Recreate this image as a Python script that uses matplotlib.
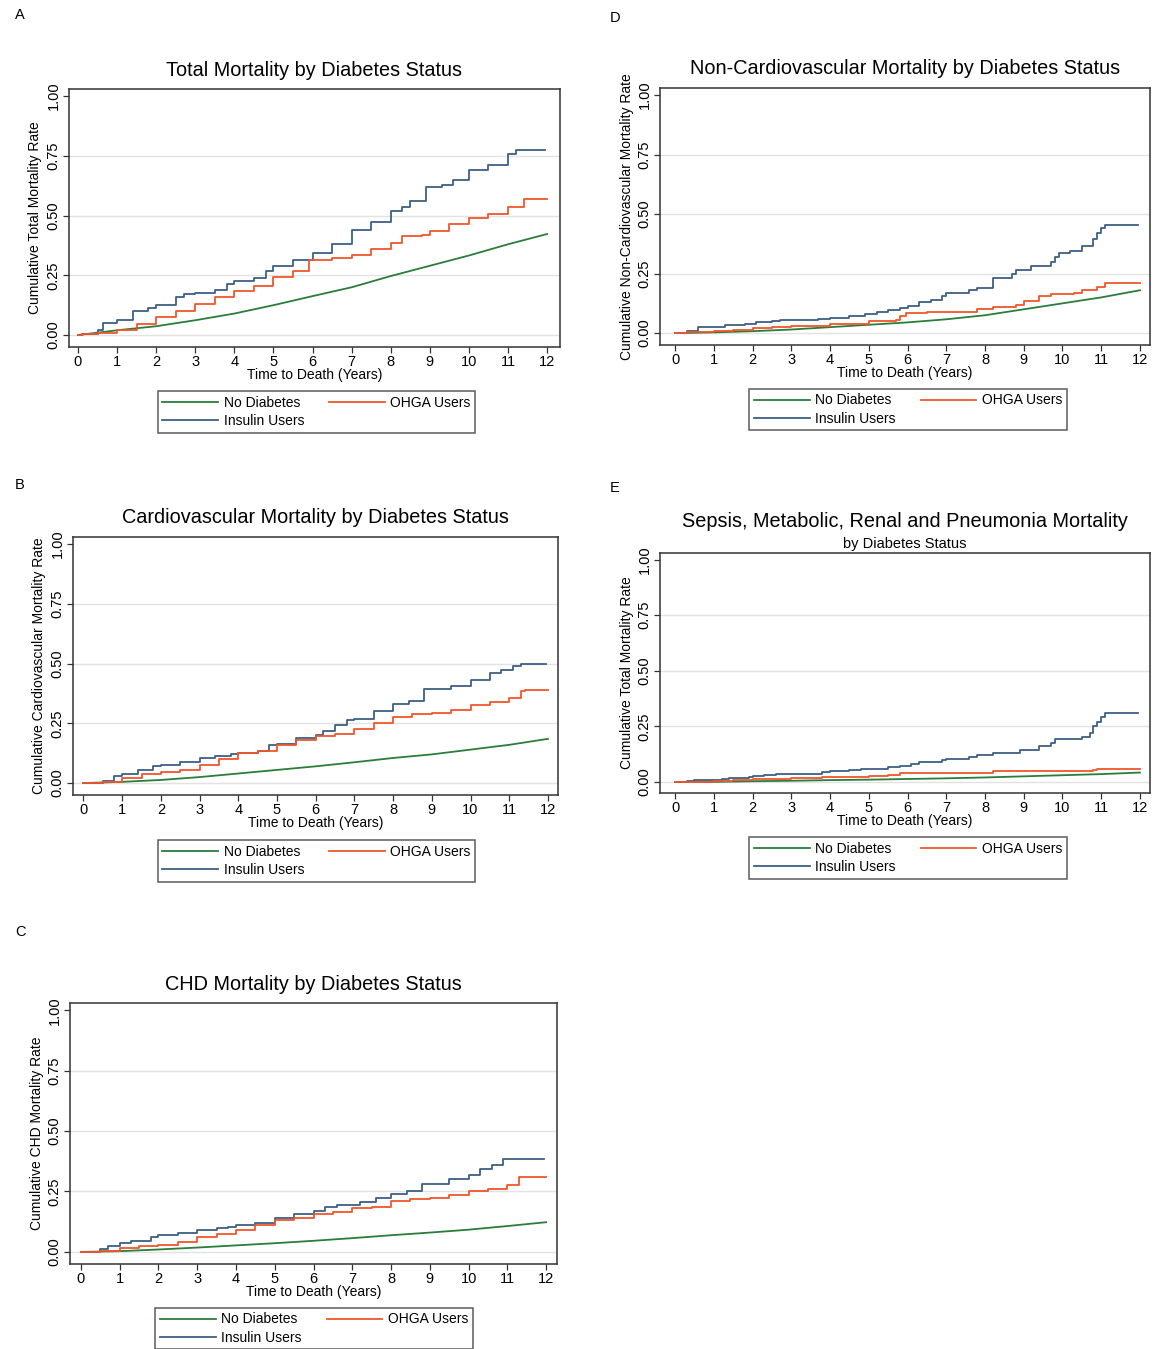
import matplotlib
matplotlib.use("Agg")
import matplotlib.pyplot as plt

plt.rcParams['font.family'] = ['Liberation Sans', 'DejaVu Sans']

series_names = ["No Diabetes", "Insulin Users", "OHGA Users"]
series_colors = ["#2a7d3a", "#3d5f85", "#f0562a"]
years = list(range(13))
y_ticks = [0.0, 0.25, 0.5, 0.75, 1.0]

# A: total mortality
total_none_t = [0, 1, 2, 3, 4, 5, 6, 7, 8, 9, 10, 11, 12]
total_none = [0, 0.02, 0.037, 0.062, 0.09, 0.125, 0.163, 0.2, 0.247, 0.29, 0.333, 0.38, 0.423]
total_ins_t = [0, 0.1, 0.5, 0.65, 1.0, 1.4, 1.8, 2.0, 2.5, 2.7, 3.0, 3.5, 3.8, 4.0, 4.5, 4.8, 5.0,
               5.5, 6.0, 6.5, 7.0, 7.5, 8.0, 8.3, 8.5, 8.9, 9.3, 9.6, 10.0, 10.5, 11.0, 11.2, 11.95]
total_ins = [0, 0.005, 0.02, 0.05, 0.065, 0.1, 0.112, 0.125, 0.16, 0.17, 0.177, 0.19, 0.215, 0.228,
             0.24, 0.27, 0.29, 0.315, 0.345, 0.38, 0.44, 0.475, 0.52, 0.535, 0.56, 0.62, 0.63, 0.65,
             0.69, 0.71, 0.76, 0.775, 0.775]
total_ohga_t = [0, 0.1, 0.5, 1.0, 1.5, 2.0, 2.5, 3.0, 3.5, 4.0, 4.5, 5.0, 5.5, 5.9, 6.5, 7.0, 7.5,
                8.0, 8.3, 8.8, 9.0, 9.5, 10.0, 10.5, 11.0, 11.4, 12.0]
total_ohga = [0, 0.003, 0.01, 0.02, 0.045, 0.075, 0.1, 0.13, 0.16, 0.185, 0.205, 0.245, 0.27, 0.315,
              0.322, 0.335, 0.36, 0.385, 0.415, 0.42, 0.437, 0.465, 0.49, 0.505, 0.535, 0.57, 0.57]

# B: cardiovascular mortality
cv_none_t = [0, 1, 2, 3, 4, 5, 6, 7, 8, 9, 10, 11, 12]
cv_none = [0, 0.005, 0.013, 0.025, 0.04, 0.055, 0.07, 0.087, 0.105, 0.12, 0.14, 0.16, 0.185]
cv_ins_t = [0, 0.5, 0.8, 1.0, 1.4, 1.8, 2.0, 2.5, 3.0, 3.4, 3.8, 4.0, 4.5, 4.8, 5.0, 5.5, 6.0, 6.2,
            6.5, 6.8, 7.0, 7.5, 8.0, 8.4, 8.8, 9.5, 10.0, 10.5, 10.8, 11.1, 11.3, 11.95]
cv_ins = [0, 0.01, 0.03, 0.04, 0.055, 0.07, 0.075, 0.09, 0.105, 0.115, 0.12, 0.125, 0.135, 0.16, 0.165,
          0.19, 0.2, 0.22, 0.245, 0.265, 0.27, 0.3, 0.33, 0.345, 0.395, 0.405, 0.43, 0.46, 0.475, 0.49,
          0.5, 0.5]
cv_ohga_t = [0, 0.5, 1.0, 1.5, 2.0, 2.5, 3.0, 3.5, 4.0, 4.5, 5.0, 5.5, 6.0, 6.5, 7.0, 7.5, 8.0, 8.5,
             9.0, 9.5, 10.0, 10.5, 11.0, 11.3, 11.4, 12.0]
cv_ohga = [0, 0.005, 0.02, 0.04, 0.045, 0.055, 0.075, 0.1, 0.125, 0.135, 0.16, 0.18, 0.195, 0.205,
           0.225, 0.25, 0.275, 0.29, 0.295, 0.305, 0.325, 0.34, 0.355, 0.385, 0.39, 0.39]

# C: CHD mortality
chd_none_t = [0, 1, 2, 3, 4, 5, 6, 7, 8, 9, 10, 11, 12]
chd_none = [0, 0.003, 0.01, 0.018, 0.027, 0.036, 0.046, 0.057, 0.069, 0.08, 0.092, 0.107, 0.123]
chd_ins_t = [0, 0.5, 0.7, 1.0, 1.3, 1.8, 2.0, 2.5, 3.0, 3.5, 3.8, 4.0, 4.5, 5.0, 5.5, 6.0, 6.3, 6.6,
             7.2, 7.6, 8.0, 8.4, 8.8, 9.5, 10.0, 10.3, 10.6, 10.9, 11.95]
chd_ins = [0, 0.01, 0.025, 0.035, 0.045, 0.06, 0.07, 0.08, 0.09, 0.1, 0.105, 0.11, 0.12, 0.14, 0.155,
           0.17, 0.185, 0.195, 0.205, 0.225, 0.24, 0.25, 0.28, 0.3, 0.32, 0.345, 0.36, 0.385, 0.385]
chd_ohga_t = [0, 0.5, 1.0, 1.5, 2.0, 2.5, 3.0, 3.5, 4.0, 4.5, 5.0, 5.5, 6.0, 6.5, 7.0, 7.5, 8.0, 8.5,
              9.0, 9.5, 10.0, 10.5, 11.0, 11.3, 12.0]
chd_ohga = [0, 0.005, 0.015, 0.025, 0.03, 0.04, 0.06, 0.075, 0.09, 0.11, 0.13, 0.14, 0.155, 0.165,
            0.18, 0.185, 0.21, 0.22, 0.225, 0.235, 0.25, 0.26, 0.275, 0.31, 0.31]

# D: non-cardiovascular mortality
ncv_none_t = [0, 1, 2, 3, 4, 5, 6, 7, 8, 9, 10, 11, 12]
ncv_none = [0, 0.003, 0.008, 0.015, 0.025, 0.035, 0.045, 0.058, 0.075, 0.1, 0.125, 0.15, 0.18]
ncv_ins_t = [0, 0.3, 0.6, 1.3, 1.8, 2.1, 2.5, 2.7, 3.7, 4.0, 4.5, 4.9, 5.2, 5.5, 5.8, 6.0, 6.3, 6.6,
             6.9, 7.0, 7.6, 7.8, 8.2, 8.7, 8.8, 9.2, 9.7, 9.8, 9.9, 10.2, 10.5, 10.8, 10.9, 11.0,
             11.1, 11.95]
ncv_ins = [0, 0.01, 0.025, 0.035, 0.04, 0.045, 0.05, 0.055, 0.06, 0.065, 0.07, 0.08, 0.09, 0.095,
           0.105, 0.115, 0.13, 0.14, 0.155, 0.17, 0.18, 0.19, 0.23, 0.25, 0.265, 0.28, 0.3, 0.32,
           0.335, 0.345, 0.365, 0.395, 0.42, 0.44, 0.455, 0.455]
ncv_ohga_t = [0, 0.3, 1.0, 1.5, 2.0, 2.5, 3.0, 4.0, 5.0, 5.7, 5.8, 5.95, 6.5, 7.5, 7.8, 8.2, 8.8, 9.0,
              9.4, 9.7, 10.3, 10.5, 10.9, 11.1, 12.0]
ncv_ohga = [0, 0.005, 0.01, 0.015, 0.02, 0.025, 0.03, 0.04, 0.05, 0.055, 0.07, 0.085, 0.087, 0.09,
            0.1, 0.11, 0.12, 0.135, 0.155, 0.165, 0.17, 0.18, 0.195, 0.21, 0.21]

# E: sepsis, metabolic, renal and pneumonia mortality
sep_none_t = [0, 1, 2, 3, 4, 5, 6, 7, 8, 9, 10, 11, 12]
sep_none = [0, 0.0, 0.003, 0.005, 0.008, 0.01, 0.013, 0.016, 0.02, 0.025, 0.03, 0.035, 0.042]
sep_ins_t = [0, 0.3, 0.5, 1.2, 1.4, 1.9, 2.0, 2.3, 2.6, 3.8, 4.0, 4.5, 4.8, 5.5, 5.8, 6.1, 6.3, 6.9,
             7.0, 7.6, 7.8, 8.2, 8.9, 9.4, 9.7, 9.8, 10.5, 10.7, 10.8, 10.9, 11.0, 11.1, 11.95]
sep_ins = [0, 0.005, 0.01, 0.012, 0.018, 0.02, 0.025, 0.03, 0.035, 0.045, 0.05, 0.055, 0.06, 0.065,
           0.07, 0.08, 0.09, 0.1, 0.105, 0.11, 0.12, 0.13, 0.145, 0.16, 0.175, 0.195, 0.2, 0.22, 0.25,
           0.27, 0.29, 0.31, 0.31]
sep_ohga_t = [0, 0.3, 1.0, 1.5, 2.0, 2.8, 3.0, 3.8, 4.0, 5.0, 5.5, 5.8, 6.0, 8.2, 10.8, 10.9, 12.0]
sep_ohga = [0, 0.0, 0.003, 0.008, 0.012, 0.015, 0.017, 0.02, 0.022, 0.025, 0.03, 0.04, 0.042, 0.05,
            0.052, 0.058, 0.058]

panels = [
    # letter, title, subtitle, ylabel, data, axes rect px (x0, y0, x1, y1), legend rect px, letter pos
    ("A", "Total Mortality by Diabetes Status", None, "Cumulative Total Mortality Rate",
     [(total_none_t, total_none), (total_ins_t, total_ins), (total_ohga_t, total_ohga)],
     (69, 89, 560, 347), (155, 388, 478, 436), (15, 15), (-0.23, 12.33)),
    ("B", "Cardiovascular Mortality by Diabetes Status", None, "Cumulative Cardiovascular Mortality Rate",
     [(cv_none_t, cv_none), (cv_ins_t, cv_ins), (cv_ohga_t, cv_ohga)],
     (73, 537, 558, 795), (155, 838, 478, 884), (15, 485), (-0.27, 12.26)),
    ("C", "CHD Mortality by Diabetes Status", None, "Cumulative CHD Mortality Rate",
     [(chd_none_t, chd_none), (chd_ins_t, chd_ins), (chd_ohga_t, chd_ohga)],
     (70, 1003, 557, 1264), (153, 1305, 475, 1352), (15, 932), (-0.28, 12.28)),
    ("D", "Non-Cardiovascular Mortality by Diabetes Status", None,
     "Cumulative Non-Cardiovascular Mortality Rate",
     [(ncv_none_t, ncv_none), (ncv_ins_t, ncv_ins), (ncv_ohga_t, ncv_ohga)],
     (660, 88, 1150, 345), (747, 386, 1069, 433), (610, 18), (-0.39, 12.26)),
    ("E", "Sepsis, Metabolic, Renal and Pneumonia Mortality", "by Diabetes Status",
     "Cumulative Total Mortality Rate",
     [(sep_none_t, sep_none), (sep_ins_t, sep_ins), (sep_ohga_t, sep_ohga)],
     (660, 553, 1150, 793), (747, 836, 1069, 880), (610, 488), (-0.39, 12.26)),
]

W, H = 1155, 1349
fig = plt.figure(figsize=(W / 100, H / 100), dpi=100)

for letter, title, subtitle, ylabel, data, box, leg, lpos, xlim in panels:
    x0, y0, x1, y1 = box
    ax = fig.add_axes([x0 / W, 1 - y1 / H, (x1 - x0) / W, (y1 - y0) / H])
    lines = []
    for i, (t, v) in enumerate(data):
        ds = "default" if i == 0 else "steps-post"
        ln, = ax.plot(t, v, color=series_colors[i], lw=1.3, drawstyle=ds, label=series_names[i])
        lines.append(ln)
    ax.set_xlim(*xlim)
    ax.set_ylim(-0.05, 1.03)
    ax.set_xticks(years)
    ax.set_yticks(y_ticks)
    ax.set_yticklabels(["%.2f" % v for v in y_ticks], rotation=90, va="center")
    for g in y_ticks[:-1]:
        ax.axhline(g, color="#e2e2e2", lw=1.0, zorder=0)
    ax.tick_params(labelsize=10.5, length=4, width=0.9, color="#333333", pad=2)
    for s in ax.spines.values():
        s.set_color("#333333")
        s.set_linewidth(1.1)
    ax.set_xlabel("Time to Death (Years)", fontsize=10, labelpad=-1)
    ax.set_ylabel(ylabel, fontsize=10, labelpad=3)
    cx = (x0 + x1) / 2 / W
    if subtitle is None:
        fig.text(cx, 1 - (y0 - 19) / H, title, ha="center", va="center", fontsize=14.3)
    else:
        fig.text(cx, 1 - (y0 - 31) / H, title, ha="center", va="center", fontsize=14.3)
        fig.text(cx, 1 - (y0 - 9) / H, subtitle, ha="center", va="center", fontsize=10.5)
    fig.text(lpos[0] / W, 1 - lpos[1] / H, letter, ha="left", va="center", fontsize=10.5)

    lx0, ly0, lx1, ly1 = leg
    lg = fig.legend(lines, series_names, ncol=2, loc="center",
                    bbox_to_anchor=((lx0 + lx1) / 2 / W, 1 - (ly0 + ly1) / 2 / H),
                    fontsize=10, frameon=True, fancybox=False, handlelength=4.0,
                    columnspacing=1.8, handletextpad=0.4, labelspacing=0.3,
                    borderpad=0.35, edgecolor="#333333")
    lg.get_frame().set_linewidth(1.1)

fig.savefig("out.png", dpi=100, facecolor="white")
